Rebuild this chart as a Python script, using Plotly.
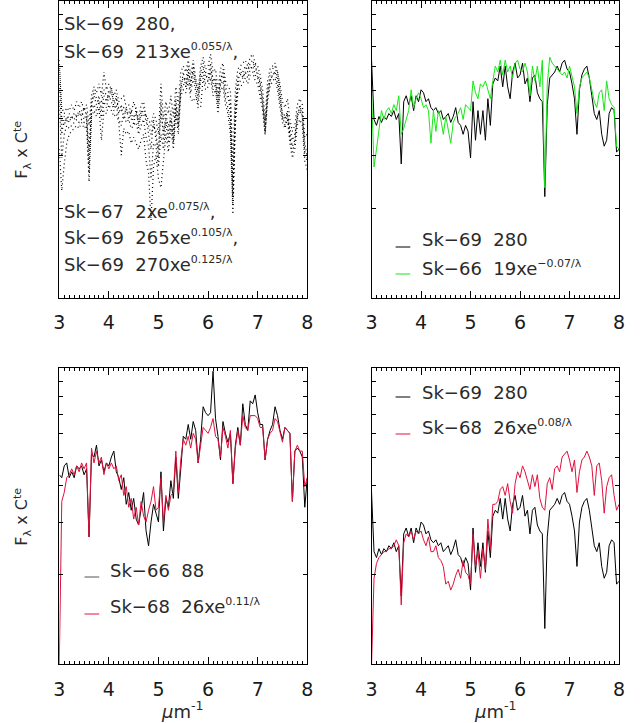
import plotly.graph_objects as go

# Wavenumber grid (micron^-1), 3.00 ... 8.00 step 0.05
WAVENUMBER = [round(3.0 + 0.05 * i, 2) for i in range(101)]

# log10(F_lambda x C^te)
SK69_280_TOP = [
    0.80, 0.60, 0.58, 0.61, 0.59, 0.61, 0.60, 0.62, 0.61, 0.63,
    0.60, 0.62, 0.45, 0.66, 0.68, 0.65, 0.68, 0.63, 0.68, 0.66,
    0.70, 0.69, 0.66, 0.67, 0.64, 0.63, 0.64, 0.62, 0.63, 0.60,
    0.61, 0.62, 0.59, 0.61, 0.64, 0.59, 0.58, 0.55, 0.58, 0.56,
    0.47, 0.66, 0.53, 0.63, 0.55, 0.63, 0.53, 0.67, 0.58, 0.72,
    0.74, 0.73, 0.78, 0.71, 0.78, 0.71, 0.67, 0.76, 0.79, 0.74,
    0.75, 0.79, 0.72, 0.74, 0.66, 0.74, 0.75, 0.69, 0.67, 0.66,
    0.34, 0.65, 0.74, 0.75, 0.76, 0.78, 0.76, 0.79, 0.80, 0.77,
    0.76, 0.72, 0.67, 0.55, 0.70, 0.75, 0.77, 0.78, 0.74, 0.68,
    0.62, 0.60, 0.63, 0.55, 0.51, 0.53, 0.62, 0.64, 0.63, 0.49,
    0.50]
SK69_213 = [
    0.78, 0.64, 0.62, 0.64, 0.63, 0.65, 0.63, 0.66, 0.64, 0.66,
    0.63, 0.65, 0.58, 0.68, 0.71, 0.69, 0.72, 0.68, 0.76, 0.70,
    0.72, 0.70, 0.68, 0.70, 0.66, 0.67, 0.68, 0.64, 0.65, 0.62,
    0.66, 0.63, 0.60, 0.65, 0.66, 0.61, 0.60, 0.58, 0.62, 0.60,
    0.55, 0.72, 0.60, 0.66, 0.62, 0.68, 0.61, 0.71, 0.65, 0.76,
    0.78, 0.76, 0.80, 0.75, 0.80, 0.74, 0.70, 0.78, 0.81, 0.77,
    0.78, 0.82, 0.76, 0.77, 0.70, 0.77, 0.79, 0.73, 0.71, 0.70,
    0.45, 0.70, 0.77, 0.78, 0.79, 0.80, 0.78, 0.81, 0.82, 0.79,
    0.78, 0.75, 0.70, 0.60, 0.73, 0.77, 0.78, 0.79, 0.76, 0.72,
    0.66, 0.64, 0.67, 0.60, 0.56, 0.58, 0.65, 0.67, 0.65, 0.54,
    0.55]
SK67_2 = [
    0.50, 0.36, 0.45, 0.52, 0.55, 0.56, 0.57, 0.58, 0.57, 0.59,
    0.57, 0.58, 0.39, 0.61, 0.63, 0.61, 0.64, 0.53, 0.63, 0.62,
    0.65, 0.63, 0.61, 0.62, 0.59, 0.48, 0.57, 0.55, 0.56, 0.52,
    0.54, 0.52, 0.50, 0.53, 0.55, 0.46, 0.42, 0.26, 0.44, 0.48,
    0.40, 0.37, 0.45, 0.55, 0.49, 0.57, 0.50, 0.62, 0.55, 0.68,
    0.70, 0.69, 0.73, 0.67, 0.66, 0.68, 0.64, 0.64, 0.74, 0.70,
    0.71, 0.74, 0.68, 0.70, 0.62, 0.70, 0.71, 0.65, 0.62, 0.55,
    0.28, 0.58, 0.69, 0.71, 0.72, 0.74, 0.72, 0.75, 0.76, 0.73,
    0.72, 0.68, 0.63, 0.55, 0.66, 0.71, 0.73, 0.74, 0.70, 0.64,
    0.59, 0.57, 0.60, 0.52, 0.47, 0.50, 0.58, 0.60, 0.58, 0.46,
    0.43]
SK69_265 = [
    0.72, 0.55, 0.61, 0.59, 0.62, 0.60, 0.62, 0.61, 0.63, 0.61,
    0.64, 0.61, 0.50, 0.64, 0.70, 0.67, 0.66, 0.66, 0.70, 0.68,
    0.67, 0.71, 0.64, 0.68, 0.62, 0.65, 0.60, 0.64, 0.60, 0.63,
    0.58, 0.64, 0.57, 0.63, 0.61, 0.62, 0.55, 0.50, 0.60, 0.53,
    0.50, 0.63, 0.56, 0.60, 0.58, 0.60, 0.56, 0.65, 0.61, 0.70,
    0.76, 0.71, 0.76, 0.73, 0.76, 0.73, 0.69, 0.74, 0.77, 0.76,
    0.73, 0.77, 0.74, 0.72, 0.68, 0.72, 0.77, 0.71, 0.69, 0.62,
    0.38, 0.62, 0.72, 0.77, 0.74, 0.76, 0.78, 0.77, 0.78, 0.79,
    0.74, 0.73, 0.65, 0.58, 0.68, 0.73, 0.75, 0.76, 0.76, 0.70,
    0.60, 0.62, 0.61, 0.57, 0.53, 0.55, 0.60, 0.65, 0.61, 0.52,
    0.47]
SK69_270 = [
    0.66, 0.47, 0.55, 0.58, 0.57, 0.58, 0.59, 0.60, 0.59, 0.60,
    0.59, 0.60, 0.42, 0.63, 0.65, 0.63, 0.66, 0.60, 0.66, 0.64,
    0.68, 0.66, 0.63, 0.65, 0.60, 0.58, 0.62, 0.59, 0.60, 0.57,
    0.58, 0.59, 0.55, 0.58, 0.60, 0.54, 0.51, 0.40, 0.52, 0.51,
    0.44, 0.55, 0.50, 0.59, 0.52, 0.60, 0.52, 0.64, 0.57, 0.70,
    0.72, 0.71, 0.75, 0.69, 0.74, 0.70, 0.65, 0.73, 0.76, 0.72,
    0.73, 0.76, 0.70, 0.72, 0.64, 0.72, 0.73, 0.67, 0.64, 0.58,
    0.31, 0.61, 0.71, 0.73, 0.74, 0.76, 0.74, 0.77, 0.78, 0.75,
    0.74, 0.70, 0.65, 0.56, 0.68, 0.73, 0.75, 0.76, 0.72, 0.66,
    0.61, 0.58, 0.62, 0.54, 0.49, 0.52, 0.61, 0.63, 0.61, 0.48,
    0.46]
SK66_19 = [
    0.69, 0.44, 0.50, 0.56, 0.63, 0.60, 0.63, 0.64, 0.62, 0.65,
    0.63, 0.68, 0.55, 0.57, 0.60, 0.63, 0.70, 0.64, 0.67, 0.69,
    0.67, 0.64, 0.65, 0.63, 0.52, 0.63, 0.56, 0.63, 0.60, 0.55,
    0.61, 0.57, 0.52, 0.59, 0.61, 0.62, 0.64, 0.60, 0.65, 0.64,
    0.63, 0.73, 0.69, 0.67, 0.72, 0.71, 0.73, 0.70, 0.67, 0.73,
    0.78, 0.76, 0.80, 0.75, 0.80, 0.76, 0.78, 0.74, 0.79, 0.80,
    0.77, 0.76, 0.79, 0.76, 0.68, 0.78, 0.73, 0.78, 0.71, 0.80,
    0.37, 0.72, 0.81, 0.79, 0.78, 0.77, 0.76, 0.75, 0.76, 0.74,
    0.78, 0.74, 0.71, 0.62, 0.71, 0.74, 0.75, 0.76, 0.74, 0.70,
    0.66, 0.64, 0.69, 0.70, 0.63, 0.73, 0.67, 0.65, 0.64, 0.51,
    0.50]
SK66_88 = [
    0.64, 0.63, 0.67, 0.68, 0.63, 0.65, 0.63, 0.67, 0.66, 0.67,
    0.64, 0.66, 0.43, 0.71, 0.70, 0.74, 0.67, 0.69, 0.65, 0.68,
    0.67, 0.70, 0.72, 0.65, 0.63, 0.59, 0.63, 0.54, 0.58, 0.52,
    0.56, 0.49, 0.47, 0.53, 0.58, 0.45, 0.40, 0.48, 0.54, 0.51,
    0.48, 0.65, 0.45, 0.56, 0.53, 0.62, 0.56, 0.70, 0.56, 0.66,
    0.77, 0.76, 0.81, 0.76, 0.82, 0.79, 0.68, 0.76, 0.87, 0.85,
    0.84, 0.85, 0.99, 0.83, 0.77, 0.69, 0.82, 0.78, 0.75, 0.78,
    0.61, 0.74, 0.80, 0.74, 0.88, 0.81, 0.79, 0.89, 0.88, 0.91,
    0.85, 0.81, 0.81, 0.69, 0.76, 0.79, 0.81, 0.87, 0.84, 0.79,
    0.76, 0.80, 0.79, 0.78, 0.55, 0.72, 0.73, 0.72, 0.70, 0.53,
    0.63]
SK68_26_A = [
    0.00, 0.55, 0.58, 0.63, 0.64, 0.66, 0.64, 0.67, 0.65, 0.68,
    0.66, 0.68, 0.43, 0.73, 0.68, 0.72, 0.68, 0.70, 0.64, 0.68,
    0.66, 0.68, 0.66, 0.67, 0.62, 0.64, 0.57, 0.60, 0.53, 0.56,
    0.49, 0.53, 0.47, 0.55, 0.50, 0.48, 0.52, 0.55, 0.60, 0.52,
    0.53, 0.63, 0.48, 0.57, 0.52, 0.57, 0.58, 0.72, 0.58, 0.69,
    0.76, 0.74, 0.77, 0.73, 0.78, 0.76, 0.68, 0.75, 0.80, 0.79,
    0.78, 0.80, 0.83, 0.77, 0.76, 0.70, 0.80, 0.77, 0.73, 0.79,
    0.61, 0.73, 0.79, 0.74, 0.84, 0.80, 0.79, 0.84, 0.84, 0.84,
    0.83, 0.80, 0.80, 0.69, 0.76, 0.78, 0.79, 0.83, 0.82, 0.78,
    0.75, 0.80, 0.79, 0.78, 0.55, 0.72, 0.74, 0.72, 0.72, 0.60,
    0.63]
SK69_280_BOT = [
    0.58, 0.38, 0.36, 0.39, 0.37, 0.39, 0.38, 0.40, 0.39, 0.41,
    0.38, 0.40, 0.23, 0.44, 0.46, 0.43, 0.46, 0.41, 0.46, 0.44,
    0.48, 0.47, 0.44, 0.45, 0.42, 0.41, 0.42, 0.40, 0.41, 0.38,
    0.39, 0.40, 0.37, 0.39, 0.42, 0.37, 0.36, 0.33, 0.36, 0.34,
    0.25, 0.46, 0.31, 0.41, 0.33, 0.41, 0.31, 0.45, 0.36, 0.50,
    0.52, 0.51, 0.56, 0.49, 0.56, 0.49, 0.45, 0.54, 0.57, 0.52,
    0.53, 0.57, 0.50, 0.52, 0.44, 0.52, 0.53, 0.47, 0.45, 0.44,
    0.12, 0.43, 0.52, 0.53, 0.54, 0.56, 0.54, 0.57, 0.58, 0.55,
    0.54, 0.50, 0.45, 0.33, 0.48, 0.53, 0.55, 0.56, 0.52, 0.46,
    0.40, 0.38, 0.41, 0.33, 0.29, 0.31, 0.40, 0.42, 0.41, 0.27,
    0.28]
SK68_26_B = [
    0.00, 0.29, 0.34, 0.36, 0.37, 0.38, 0.38, 0.39, 0.39, 0.40,
    0.42, 0.40, 0.20, 0.41, 0.44, 0.43, 0.45, 0.42, 0.45, 0.44,
    0.45, 0.42, 0.40, 0.43, 0.38, 0.38, 0.40, 0.36, 0.35, 0.33,
    0.27, 0.28, 0.25, 0.27, 0.30, 0.32, 0.29, 0.35, 0.31, 0.30,
    0.27, 0.44, 0.33, 0.38, 0.29, 0.39, 0.32, 0.49, 0.39, 0.54,
    0.54, 0.55, 0.59, 0.60, 0.57, 0.61, 0.55, 0.51, 0.61, 0.65,
    0.63, 0.67, 0.65, 0.62, 0.59, 0.64, 0.60, 0.64, 0.56, 0.53,
    0.52, 0.61, 0.63, 0.59, 0.66, 0.67, 0.65, 0.70, 0.71, 0.72,
    0.69, 0.65, 0.69, 0.58, 0.65, 0.69, 0.70, 0.72, 0.70, 0.67,
    0.57, 0.67, 0.68, 0.62, 0.51, 0.60, 0.63, 0.64, 0.57, 0.52,
    0.54]

X_TICKS = [3, 4, 5, 6, 7, 8]
Y_TICKS = [2, 3, 4, 5, 6, 7, 8, 9]

BLACK = "#000000"
GREEN = "#19e619"
RED = "#e0103c"
FONT = "DejaVu Sans"

W, H = 643, 723


def flux(logs):
    return [10 ** v for v in logs]


fig = go.Figure()


def add(series, axis_n, color, dash="solid", width=1.0):
    suffix = "" if axis_n == 1 else str(axis_n)
    fig.add_trace(go.Scatter(
        x=WAVENUMBER, y=flux(series), mode="lines",
        line=dict(color=color, width=width, dash=dash),
        xaxis="x" + suffix, yaxis="y" + suffix, showlegend=False,
        hoverinfo="skip"))


# panel 1 (dotted)
for s in (SK69_280_TOP, SK69_213, SK67_2, SK69_265, SK69_270):
    add(s, 1, BLACK, dash="1px,3px", width=1.2)
# panel 2
add(SK69_280_TOP, 2, BLACK)
add(SK66_19, 2, GREEN)
# panel 3
add(SK66_88, 3, BLACK)
add(SK68_26_A, 3, RED)
# panel 4
add(SK69_280_BOT, 4, BLACK)
add(SK68_26_B, 4, RED)


def px_x(p):
    return p / W


def px_y(p):
    return 1 - p / H


left_dom = [px_x(54.3), px_x(307)]
right_dom = [px_x(372.5), px_x(624.7)]
top_dom = [px_y(297.5), px_y(0.8)]
bot_dom = [px_y(664), px_y(368.3)]

xcommon = dict(range=[3, 8], tickmode="array", tickvals=X_TICKS,
               ticktext=[str(v) for v in X_TICKS],
               ticks="inside", ticklen=7, tickwidth=1, tickcolor="black",
               showline=True, linecolor="black", linewidth=1, mirror="allticks",
               showgrid=False, zeroline=False, ticklabelstandoff=8,
               tickfont=dict(family=FONT, size=19, color="#1a1a1a"),
               minor=dict(tick0=3, dtick=0.1, ticks="inside", ticklen=3,
                          tickwidth=1, tickcolor="black", showgrid=False))
ycommon = dict(type="log", range=[0, 1], tickmode="array", tickvals=Y_TICKS,
               ticks="inside", ticklen=4, tickwidth=1, tickcolor="black",
               showticklabels=False, showline=True, linecolor="black",
               linewidth=1, mirror="allticks", showgrid=False, zeroline=False)

fig.update_layout(
    width=W, height=H, autosize=False,
    margin=dict(l=0, r=0, t=0, b=0),
    paper_bgcolor="white", plot_bgcolor="white",
    xaxis=dict(domain=left_dom, anchor="y", **xcommon),
    yaxis=dict(domain=top_dom, anchor="x", **ycommon),
    xaxis2=dict(domain=right_dom, anchor="y2", **xcommon),
    yaxis2=dict(domain=top_dom, anchor="x2", **ycommon),
    xaxis3=dict(domain=left_dom, anchor="y3", **xcommon),
    yaxis3=dict(domain=bot_dom, anchor="x3", **ycommon),
    xaxis4=dict(domain=right_dom, anchor="y4", **xcommon),
    yaxis4=dict(domain=bot_dom, anchor="x4", **ycommon),
)

TEXT_COLOR = "#2a2a2a"
anns = []


def text(x, y, s, size=18, anchor="left", angle=0):
    anns.append(dict(x=px_x(x), y=px_y(y), xref="paper", yref="paper",
                     text=s, showarrow=False, xanchor=anchor,
                     yanchor="middle", textangle=angle,
                     font=dict(family=FONT, size=size, color=TEXT_COLOR)))


def sup(s):
    return "<sup><span style='font-size:11px'>%s</span></sup>" % s


# panel 1 labels
text(57, 24, "Sk\u221269  280,")
text(57, 51, "Sk\u221269  213xe" + sup("0.055/λ") + ",")
text(57, 211, "Sk\u221267  2xe" + sup("0.075/λ") + ",")
text(57, 237, "Sk\u221269  265xe" + sup("0.105/λ") + ",")
text(57, 264, "Sk\u221269  270xe" + sup("0.125/λ"))
# panel 2 legend
text(422, 240, "Sk\u221269  280")
text(422, 268, "Sk\u221266  19xe" + sup("\u22120.07/λ"))
# panel 3 legend
text(104, 570, "Sk\u221266  88")
text(104, 606, "Sk\u221268  26xe" + sup("0.11/λ"))
# panel 4 legend
text(422, 392, "Sk\u221269  280")
text(422, 427, "Sk\u221268  26xe" + sup("0.08/λ"))
# axis titles
text(16, 150, "F<sub>λ</sub> x C<sup>te</sup>", size=16, anchor="center", angle=-90)
text(16, 517, "F<sub>λ</sub> x C<sup>te</sup>", size=16, anchor="center", angle=-90)
text(180, 710, "<i>μ</i>m<sup>-1</sup>", size=18, anchor="center")
text(499, 710, "<i>μ</i>m<sup>-1</sup>", size=18, anchor="center")

fig.update_layout(annotations=anns)

shapes = []


def key(x0, x1, y, color):
    shapes.append(dict(type="line", xref="paper", yref="paper",
                       x0=px_x(x0), x1=px_x(x1), y0=px_y(y), y1=px_y(y),
                       line=dict(color=color, width=1)))


key(397, 412, 247, BLACK)
key(397, 412, 274, GREEN)
key(80, 95, 577, "#555555")
key(80, 95, 614, RED)
key(397, 412, 397, BLACK)
key(397, 412, 434, RED)
fig.update_layout(shapes=shapes)

fig.write_html("out.html")
